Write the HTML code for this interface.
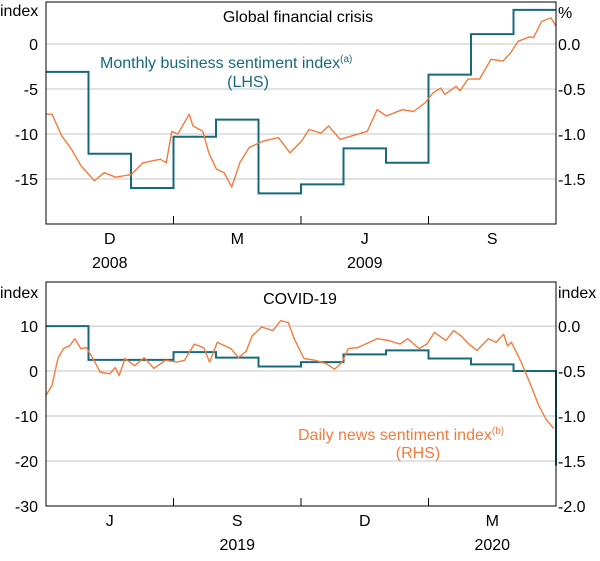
<!DOCTYPE html>
<html><head><meta charset="utf-8"><style>
body{margin:0;background:#fff}
svg text{font-family:"Liberation Sans",Arial,sans-serif;font-size:16px;fill:#000}
</style></head><body>
<svg id="c" width="600" height="556"></svg>
<script>
// Top panel data (x = months since 1 Oct 2008)
const gfcBizMonths = [0,1,2,3,4,5,6,7,8,9,10,11];
const gfcBizValues = [-3.1,-12.2,-16,-10.3,-8.4,-16.6,-15.6,-11.6,-13.2,-3.4,1.1,3.8];
const gfcNewsX = [0,0.14,0.37,0.6,0.82,1.14,1.37,1.64,2.01,2.28,2.69,2.83,2.96,3.1,3.37,3.46,3.69,3.83,4.01,4.19,4.37,4.56,4.78,5.1,5.47,5.74,6.01,6.19,6.47,6.65,6.92,7.2,7.56,7.79,8.01,8.38,8.65,8.93,9.11,9.29,9.38,9.65,9.74,9.93,10.2,10.47,10.75,10.93,11.11,11.38,11.47,11.66,11.88,12.02];
const gfcNewsY = [-0.78,-0.78,-1.02,-1.17,-1.35,-1.52,-1.43,-1.48,-1.45,-1.32,-1.28,-1.32,-0.97,-1.0,-0.78,-0.91,-0.97,-1.21,-1.39,-1.43,-1.59,-1.32,-1.15,-1.08,-1.04,-1.21,-1.08,-0.95,-0.99,-0.91,-1.06,-1.02,-0.97,-0.73,-0.8,-0.73,-0.75,-0.65,-0.54,-0.49,-0.56,-0.47,-0.52,-0.39,-0.39,-0.17,-0.19,-0.1,0.03,0.08,0.07,0.25,0.29,0.2];
const gfcLeftTicks = [0,-5,-10,-15];
const gfcRightTicks = ["0.0","-0.5","-1.0","-1.5"];
// Bottom panel data (x = months since 1 Apr 2019)
const covBizMonths = [0,1,2,3,4,5,6,7,8,9,10,11];
const covBizValues = [10,2.5,2.5,4.2,3.0,1.0,2.0,3.7,4.6,2.8,1.5,0];
const covBizEnd = -21;
const covNewsX = [0,0.14,0.28,0.41,0.55,0.68,0.82,0.95,1.13,1.27,1.5,1.63,1.72,1.86,2.09,2.31,2.54,2.81,3.08,3.26,3.49,3.71,3.85,4.03,4.35,4.53,4.71,4.85,5.07,5.34,5.52,5.7,5.84,6.07,6.34,6.61,6.79,6.97,7.11,7.33,7.61,7.79,8.06,8.33,8.51,8.78,8.96,9.14,9.41,9.59,9.77,9.95,10.14,10.41,10.59,10.77,10.86,10.95,11.18,11.41,11.59,11.77,11.95];
const covNewsY = [-0.77,-0.66,-0.36,-0.25,-0.22,-0.14,-0.25,-0.24,-0.38,-0.51,-0.53,-0.46,-0.55,-0.36,-0.44,-0.35,-0.47,-0.38,-0.4,-0.38,-0.2,-0.24,-0.4,-0.18,-0.25,-0.35,-0.28,-0.11,-0.01,-0.05,0.06,0.04,-0.14,-0.36,-0.38,-0.42,-0.48,-0.4,-0.25,-0.24,-0.18,-0.14,-0.16,-0.2,-0.14,-0.25,-0.2,-0.07,-0.16,-0.05,-0.11,-0.2,-0.27,-0.14,-0.18,-0.09,-0.22,-0.18,-0.4,-0.66,-0.88,-1.04,-1.14];
const covLeftTicks = [10,0,-10,-20,-30];
const covRightTicks = ["0.0","-0.5","-1.0","-1.5","-2.0"];

const NS="http://www.w3.org/2000/svg", svg=document.getElementById('c');
const TEAL="#176a7d", ORANGE="#f47b3b";
function mk(t,a,txt){const e=document.createElementNS(NS,t);for(const k in a)e.setAttribute(k,a[k]);if(txt!==undefined)e.textContent=txt;svg.appendChild(e);return e;}
const L=46,R=556;
const xs=m=>L+m*(R-L)/12;

function panel(o){
  const y=v=>o.y0+(o.lmax-v)*(o.y1-o.y0)/(o.lmax-o.lmin);
  const yr=v=>y(v*o.rs+o.ro);
  o.lt.forEach((t,i)=>{
    const g=mk('line',{x1:L,x2:R,y1:y(t),y2:y(t),stroke:'#c4c4c4','stroke-width':1});
    
    
    const a=mk('text',{x:38,y:y(t)+6,'text-anchor':'end'},t);
    
    
    const b=mk('text',{x:558,y:y(t)+6},o.rt[i]);
    
    
  });
  let d='';
  o.bm.forEach((m,i)=>{d+=(i?'L':'M')+xs(m)+','+y(o.bv[i])+'L'+xs(m+1)+','+y(o.bv[i]);});
  if(o.bend!==undefined)d+='L'+xs(12)+','+y(o.bend);
  const s=mk('path',{d:d,fill:'none',stroke:TEAL,'stroke-width':2});
  
  
  let d2='';
  o.nx.forEach((m,i)=>{d2+=(i?'L':'M')+xs(Math.min(m,12)).toFixed(1)+','+yr(o.ny[i]).toFixed(1);});
  const n=mk('path',{d:d2,fill:'none',stroke:ORANGE,'stroke-width':1.4,'stroke-linejoin':'round'});
  
  
  const f=mk('rect',{x:L,y:o.y0,width:R-L,height:o.y1-o.y0,fill:'none',stroke:'#000','stroke-width':1});
  
  
  [3,6,9].forEach(m=>{const t=mk('line',{x1:xs(m),x2:xs(m),y1:o.y1,y2:o.y1-8,stroke:'#000'});
    
    });
  o.ml.forEach((l,i)=>{const t=mk('text',{x:xs(1.5+3*i),y:o.y1+20,'text-anchor':'middle'},l);
    
    });
  o.yl.forEach(p=>{const t=mk('text',{x:xs(p[0]),y:o.y1+44,'text-anchor':'middle'},p[1]);
    
    });
}
panel({y0:2,y1:224,lmin:-20,lmax:4.67,rs:10,ro:0,lt:gfcLeftTicks,rt:gfcRightTicks,bm:gfcBizMonths,bv:gfcBizValues,nx:gfcNewsX,ny:gfcNewsY,ml:['D','M','J','S'],yl:[[1.5,'2008'],[7.5,'2009']]});
panel({y0:282,y1:506,lmin:-30,lmax:19.8,rs:20,ro:10,lt:covLeftTicks,rt:covRightTicks,bm:covBizMonths,bv:covBizValues,bend:covBizEnd,nx:covNewsX,ny:covNewsY,ml:['J','S','D','M'],yl:[[4.5,'2019'],[10.5,'2020']]});
</script>
<svg width="600" height="556" style="position:absolute;left:0;top:0">
<text x="0" y="16">index</text>
<text x="558" y="18">%</text>
<text x="298" y="22" text-anchor="middle">Global financial crisis</text>
<text x="100" y="68" style="fill:#176a7d">Monthly business sentiment index<tspan dy="-6" font-size="10" style="fill:#176a7d">(a)</tspan></text>
<text x="248" y="87" text-anchor="middle" style="fill:#176a7d">(LHS)</text>
<text x="0" y="298">index</text>
<text x="558" y="298">index</text>
<text x="300" y="304" text-anchor="middle">COVID-19</text>
<text x="298" y="440" style="fill:#f47b3b">Daily news sentiment index<tspan dy="-6" font-size="10" style="fill:#f47b3b">(b)</tspan></text>
<text x="418" y="458" text-anchor="middle" style="fill:#f47b3b">(RHS)</text>
</svg>
</body></html>
